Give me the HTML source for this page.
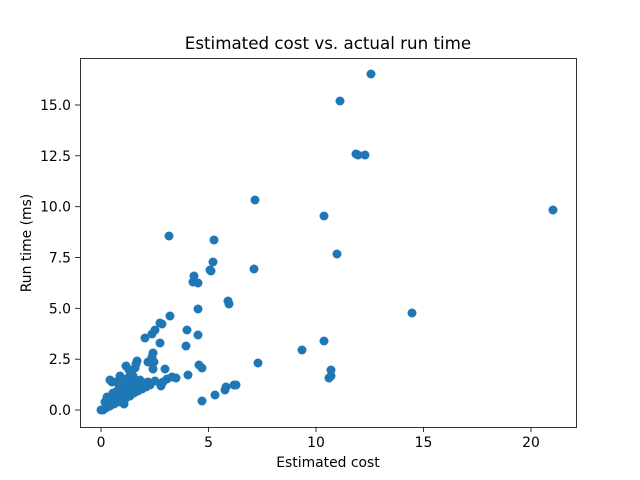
<!DOCTYPE html><html><head><style>body{margin:0;background:#fff}svg{display:block}text{font-family:"DejaVu Sans","Liberation Sans",sans-serif;fill:#000}</style></head><body>
<svg width="640" height="480" xmlns="http://www.w3.org/2000/svg">
<rect width="640" height="480" fill="#fff"/>
<text x="328" y="49" font-size="16.7" text-anchor="middle">Estimated cost vs. actual run time</text>
<g fill="#1f77b4">
<circle cx="371" cy="74" r="4.5"/><circle cx="340" cy="101" r="4.5"/><circle cx="356" cy="154" r="4.5"/><circle cx="358" cy="155" r="4.5"/><circle cx="365" cy="155" r="4.5"/><circle cx="255" cy="200" r="4.5"/><circle cx="324" cy="216" r="4.5"/><circle cx="553" cy="210" r="4.5"/><circle cx="337" cy="254" r="4.5"/><circle cx="169" cy="236" r="4.5"/><circle cx="214" cy="240" r="4.5"/><circle cx="213" cy="262" r="4.5"/><circle cx="254" cy="269" r="4.5"/><circle cx="210" cy="270" r="4.5"/><circle cx="211" cy="271" r="4.5"/><circle cx="194" cy="276" r="4.5"/><circle cx="193" cy="282" r="4.5"/><circle cx="198" cy="283" r="4.5"/><circle cx="228" cy="301" r="4.5"/><circle cx="229" cy="304" r="4.5"/><circle cx="198" cy="309" r="4.5"/><circle cx="412" cy="313" r="4.5"/><circle cx="170" cy="316" r="4.5"/><circle cx="187" cy="330" r="4.5"/><circle cx="198" cy="335" r="4.5"/><circle cx="186" cy="346" r="4.5"/><circle cx="324" cy="341" r="4.5"/><circle cx="302" cy="350" r="4.5"/><circle cx="258" cy="363" r="4.5"/><circle cx="199" cy="365" r="4.5"/><circle cx="202" cy="368" r="4.5"/><circle cx="331" cy="370" r="4.5"/><circle cx="331" cy="376" r="4.5"/><circle cx="329" cy="378" r="4.5"/><circle cx="202" cy="401" r="4.5"/><circle cx="215" cy="395" r="4.5"/><circle cx="225" cy="390" r="4.5"/><circle cx="226" cy="387" r="4.5"/><circle cx="234" cy="385" r="4.5"/><circle cx="236" cy="385" r="4.5"/><circle cx="188" cy="375" r="4.5"/>
<circle cx="145" cy="338" r="4.5"/><circle cx="152" cy="334" r="4.5"/><circle cx="155" cy="330" r="4.5"/><circle cx="160" cy="323" r="4.5"/><circle cx="162" cy="324" r="4.5"/><circle cx="153" cy="353" r="4.5"/><circle cx="152" cy="357" r="4.5"/><circle cx="154" cy="362" r="4.5"/><circle cx="153" cy="369" r="4.5"/><circle cx="126" cy="366" r="4.5"/><circle cx="129" cy="370" r="4.5"/><circle cx="135" cy="368" r="4.5"/><circle cx="136" cy="364" r="4.5"/><circle cx="137" cy="361" r="4.5"/><circle cx="165" cy="369" r="4.5"/><circle cx="160" cy="343" r="4.5"/><circle cx="148" cy="362" r="4.5"/>
<circle cx="163" cy="382" r="4.5"/><circle cx="167" cy="379" r="4.5"/><circle cx="172" cy="377" r="4.5"/><circle cx="176" cy="378" r="4.5"/><circle cx="161" cy="386" r="4.5"/><circle cx="155" cy="381" r="4.5"/>
<circle cx="101" cy="410" r="4.5"/><circle cx="103" cy="410" r="4.5"/><circle cx="106" cy="408" r="4.5"/><circle cx="110" cy="406" r="4.5"/><circle cx="114" cy="404" r="4.5"/><circle cx="118" cy="402" r="4.5"/><circle cx="122" cy="400" r="4.5"/><circle cx="126" cy="398" r="4.5"/><circle cx="130" cy="396" r="4.5"/><circle cx="134" cy="393" r="4.5"/><circle cx="138" cy="391" r="4.5"/><circle cx="142" cy="389" r="4.5"/><circle cx="146" cy="387" r="4.5"/><circle cx="150" cy="385" r="4.5"/><circle cx="110" cy="400" r="4.5"/><circle cx="115" cy="398" r="4.5"/><circle cx="120" cy="395" r="4.5"/><circle cx="125" cy="392" r="4.5"/><circle cx="130" cy="390" r="4.5"/><circle cx="135" cy="388" r="4.5"/><circle cx="140" cy="386" r="4.5"/><circle cx="145" cy="384" r="4.5"/><circle cx="148" cy="382" r="4.5"/><circle cx="113" cy="393" r="4.5"/><circle cx="118" cy="390" r="4.5"/><circle cx="122" cy="388" r="4.5"/><circle cx="108" cy="402" r="4.5"/><circle cx="112" cy="382" r="4.5"/><circle cx="110" cy="380" r="4.5"/><circle cx="116" cy="382" r="4.5"/><circle cx="125" cy="383" r="4.5"/><circle cx="130" cy="385" r="4.5"/><circle cx="135" cy="382" r="4.5"/><circle cx="140" cy="380" r="4.5"/><circle cx="145" cy="383" r="4.5"/><circle cx="120" cy="384" r="4.5"/><circle cx="128" cy="378" r="4.5"/><circle cx="133" cy="376" r="4.5"/><circle cx="124" cy="404" r="4.5"/><circle cx="105" cy="402" r="4.5"/><circle cx="107" cy="397" r="4.5"/><circle cx="120" cy="376" r="4.5"/>
</g>
<rect x="80.5" y="58.5" width="496" height="369" fill="none" stroke="#000" stroke-width="0.8"/>
<g stroke="#000" stroke-width="0.8">
<line x1="101" y1="427" x2="101" y2="432"/><line x1="208.5" y1="427" x2="208.5" y2="432"/><line x1="316" y1="427" x2="316" y2="432"/><line x1="423.5" y1="427" x2="423.5" y2="432"/><line x1="531" y1="427" x2="531" y2="432"/>
<line x1="75" y1="410" x2="80" y2="410"/><line x1="75" y1="359.2" x2="80" y2="359.2"/><line x1="75" y1="308.3" x2="80" y2="308.3"/><line x1="75" y1="257.5" x2="80" y2="257.5"/><line x1="75" y1="206.7" x2="80" y2="206.7"/><line x1="75" y1="155.8" x2="80" y2="155.8"/><line x1="75" y1="105" x2="80" y2="105"/>
</g>
<g font-size="13.9" text-anchor="middle">
<text x="101" y="447">0</text><text x="208.5" y="447">5</text><text x="316" y="447">10</text><text x="423.5" y="447">15</text><text x="531" y="447">20</text>
</g>
<g font-size="13.9" text-anchor="end">
<text x="71" y="415">0.0</text><text x="71" y="364.2">2.5</text><text x="71" y="313.3">5.0</text><text x="71" y="262.5">7.5</text><text x="71" y="211.7">10.0</text><text x="71" y="160.8">12.5</text><text x="71" y="110">15.0</text>
</g>
<text x="328" y="467" font-size="13.9" text-anchor="middle">Estimated cost</text>
<text x="0" y="0" font-size="13.9" text-anchor="middle" transform="translate(31,243) rotate(-90)">Run time (ms)</text>
</svg></body></html>
